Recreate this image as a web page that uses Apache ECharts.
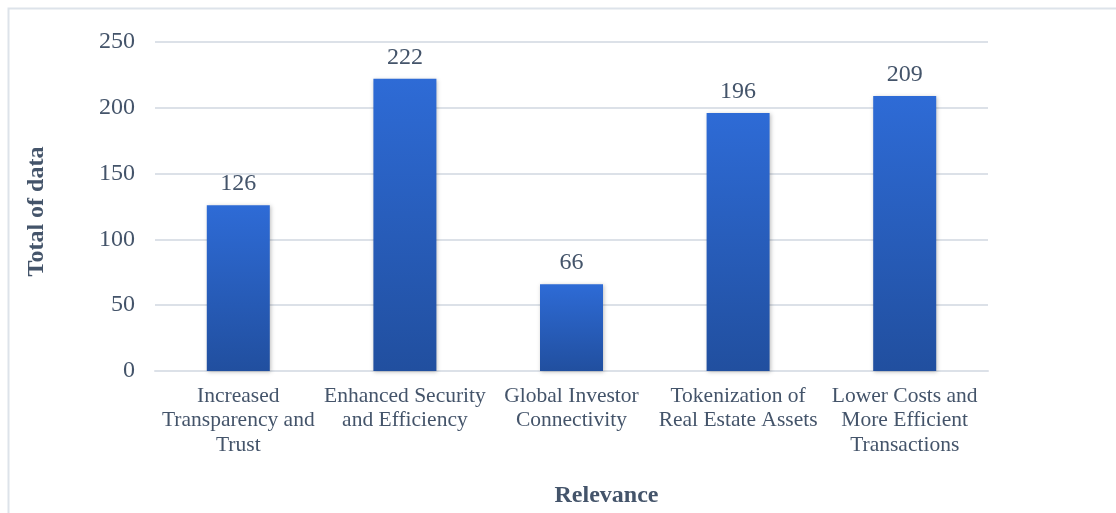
<!DOCTYPE html>
<html>
<head>
<meta charset="utf-8">
<script src="https://cdn.jsdelivr.net/npm/echarts@6/dist/echarts.min.js"></script>
<style>
html,body{margin:0;padding:0;background:#fff;}
#c{width:1116px;height:513px;}
</style>
</head>
<body>
<div id="c"></div>
<script>
var categories = [
  "Increased\nTransparency and\nTrust",
  "Enhanced Security\nand Efficiency",
  "Global Investor\nConnectivity",
  "Tokenization of\nReal Estate Assets",
  "Lower Costs and\nMore Efficient\nTransactions"
];
var values = [126, 222, 66, 196, 209];
var yTicks = [0, 50, 100, 150, 200, 250];

var textColor = '#44546a';
var font = '"Liberation Serif","Times New Roman",serif';
var chart = echarts.init(document.getElementById('c'), null, {renderer: 'canvas'});
chart.setOption({
  backgroundColor: '#fff',
  animation: false,
  graphic: [{
    type: 'rect',
    shape: {x: 8.5, y: 8.5, width: 1200, height: 600},
    style: {fill: 'none', stroke: '#dde3ea', lineWidth: 2},
    silent: true, z: -10
  }],
  grid: {left: 155, right: 128, top: 42, bottom: 141},
  xAxis: {
    type: 'category',
    data: categories,
    name: 'Relevance',
    nameLocation: 'middle',
    nameGap: 113,
    nameTextStyle: {fontFamily: font, fontSize: 24, fontWeight: 'bold', color: textColor, padding: [0, 0, 0, 70]},
    axisLine: {show: true, lineStyle: {color: '#dce1e8', width: 2}},
    axisTick: {show: false},
    axisLabel: {fontFamily: font, fontSize: 21.5, color: textColor, lineHeight: 24.5, margin: 13, interval: 0}
  },
  yAxis: {
    type: 'value',
    min: yTicks[0], max: yTicks[yTicks.length - 1], interval: 50,
    name: 'Total of data',
    nameLocation: 'middle',
    nameGap: 106,
    nameTextStyle: {fontFamily: font, fontSize: 24, fontWeight: 'bold', color: textColor, padding: [0, 10, 0, 0]},
    axisLine: {show: false},
    axisTick: {show: false},
    splitLine: {lineStyle: {color: '#dce1e8', width: 2}},
    axisLabel: {fontFamily: font, fontSize: 24, color: textColor, margin: 20}
  },
  series: [{
    type: 'bar',
    data: values,
    barWidth: 63,
    itemStyle: {
      color: new echarts.graphic.LinearGradient(0, 0, 0, 1, [
        {offset: 0, color: '#2e6bd6'},
        {offset: 1, color: '#214f9f'}
      ]),
      shadowColor: 'rgba(0,0,0,0.25)',
      shadowBlur: 4,
      shadowOffsetX: 1,
      shadowOffsetY: 1
    },
    label: {show: true, position: 'top', distance: 9, fontFamily: font, fontSize: 24, color: textColor}
  }]
});
</script>
</body>
</html>
